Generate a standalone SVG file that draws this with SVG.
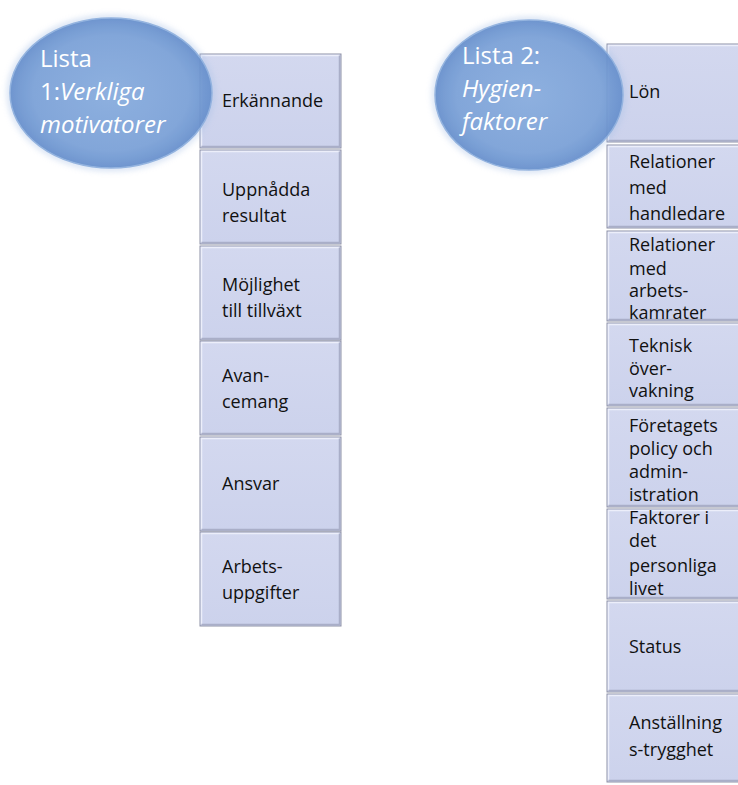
<svg xmlns="http://www.w3.org/2000/svg" width="738" height="785" viewBox="0 0 738 785">
  <defs>
    <radialGradient id="ballFill" cx="50%" cy="50%" r="55%">
      <stop offset="0%" stop-color="#86aadd"/>
      <stop offset="70%" stop-color="#79a0d7"/>
      <stop offset="100%" stop-color="#5f88c7"/>
    </radialGradient>
    <linearGradient id="boxFill" x1="0" y1="0" x2="0" y2="1">
      <stop offset="0%" stop-color="#d3d8ef"/>
      <stop offset="100%" stop-color="#ccd2ec"/>
    </linearGradient>
    <filter id="glow" x="-20%" y="-20%" width="140%" height="140%">
      <feGaussianBlur stdDeviation="3"/>
    </filter>
  </defs>
  <style>
    .box { fill: url(#boxFill); stroke: #8e91a6; stroke-width: 1; }
    .hl { fill: none; stroke: #eceefa; stroke-width: 1.5; }
    .sh { fill: none; stroke: #a9aec8; stroke-width: 1.5; }
    .lbl { font-family: "Open Sans", "Noto Sans", sans-serif; font-size: 18px; fill: #111111; }
    .title { font-family: "Open Sans", "Noto Sans", sans-serif; font-size: 24px; fill: #ffffff; }
    .it { font-style: italic; }
    .ball { fill: url(#ballFill); opacity: 0.93; stroke: #8fb0de; stroke-width: 1.5; }
    .halo { fill: none; stroke: #a9c1e6; stroke-width: 5; opacity: 0.6; }
  </style>

  <!-- Left column boxes -->
  <g id="l1">
    <rect class="box" x="200" y="54" width="141" height="94"/>
    <polyline class="hl" points="201.5,146.5 201.5,55.5 339.5,55.5"/>
    <polyline class="sh" points="201.5,146.5 339.5,146.5 339.5,55.5"/>
    <text class="lbl" x="222" y="107">Erkännande</text>
  </g>
  <g id="l2">
    <rect class="box" x="200" y="150" width="141" height="94"/>
    <polyline class="hl" points="201.5,242.5 201.5,151.5 339.5,151.5"/>
    <polyline class="sh" points="201.5,242.5 339.5,242.5 339.5,151.5"/>
    <text class="lbl" x="222" y="196">Uppnådda</text>
    <text class="lbl" x="222" y="222">resultat</text>
  </g>
  <g id="l3">
    <rect class="box" x="200" y="246" width="141" height="94"/>
    <polyline class="hl" points="201.5,338.5 201.5,247.5 339.5,247.5"/>
    <polyline class="sh" points="201.5,338.5 339.5,338.5 339.5,247.5"/>
    <text class="lbl" x="222" y="291">Möjlighet</text>
    <text class="lbl" x="222" y="317">till tillväxt</text>
  </g>
  <g id="l4">
    <rect class="box" x="200" y="341" width="141" height="94"/>
    <polyline class="hl" points="201.5,433.5 201.5,342.5 339.5,342.5"/>
    <polyline class="sh" points="201.5,433.5 339.5,433.5 339.5,342.5"/>
    <text class="lbl" x="222" y="382">Avan-</text>
    <text class="lbl" x="222" y="408">cemang</text>
  </g>
  <g id="l5">
    <rect class="box" x="200" y="437" width="141" height="94"/>
    <polyline class="hl" points="201.5,529.5 201.5,438.5 339.5,438.5"/>
    <polyline class="sh" points="201.5,529.5 339.5,529.5 339.5,438.5"/>
    <text class="lbl" x="222" y="490">Ansvar</text>
  </g>
  <g id="l6">
    <rect class="box" x="200" y="532" width="141" height="94"/>
    <polyline class="hl" points="201.5,624.5 201.5,533.5 339.5,533.5"/>
    <polyline class="sh" points="201.5,624.5 339.5,624.5 339.5,533.5"/>
    <text class="lbl" x="222" y="573">Arbets-</text>
    <text class="lbl" x="222" y="599">uppgifter</text>
  </g>

  <!-- Right column boxes -->
  <g id="r1">
    <rect class="box" x="607" y="44" width="141" height="98"/>
    <polyline class="hl" points="608.5,140.5 608.5,45.5 746,45.5"/>
    <polyline class="sh" points="608.5,140.5 746,140.5"/>
    <text class="lbl" x="629" y="98">Lön</text>
  </g>
  <g id="r2">
    <rect class="box" x="607" y="145" width="141" height="83"/>
    <polyline class="hl" points="608.5,226.5 608.5,146.5 746,146.5"/>
    <polyline class="sh" points="608.5,226.5 746,226.5"/>
    <text class="lbl" x="629" y="168">Relationer</text>
    <text class="lbl" x="629" y="194">med</text>
    <text class="lbl" x="629" y="220">handledare</text>
  </g>
  <g id="r3">
    <rect class="box" x="607" y="231" width="141" height="90"/>
    <polyline class="hl" points="608.5,319.5 608.5,232.5 746,232.5"/>
    <polyline class="sh" points="608.5,319.5 746,319.5"/>
    <text class="lbl" x="629" y="251">Relationer</text>
    <text class="lbl" x="629" y="275">med</text>
    <text class="lbl" x="629" y="297">arbets-</text>
    <text class="lbl" x="629" y="319">kamrater</text>
  </g>
  <g id="r4">
    <rect class="box" x="607" y="323" width="141" height="83"/>
    <polyline class="hl" points="608.5,404.5 608.5,324.5 746,324.5"/>
    <polyline class="sh" points="608.5,404.5 746,404.5"/>
    <text class="lbl" x="629" y="352">Teknisk</text>
    <text class="lbl" x="629" y="375">över-</text>
    <text class="lbl" x="629" y="397">vakning</text>
  </g>
  <g id="r5">
    <rect class="box" x="607" y="408" width="141" height="99"/>
    <polyline class="hl" points="608.5,505.5 608.5,409.5 746,409.5"/>
    <polyline class="sh" points="608.5,505.5 746,505.5"/>
    <text class="lbl" x="629" y="432">Företagets</text>
    <text class="lbl" x="629" y="455">policy och</text>
    <text class="lbl" x="629" y="478">admin-</text>
    <text class="lbl" x="629" y="501">istration</text>
  </g>
  <g id="r6">
    <rect class="box" x="607" y="509" width="141" height="90"/>
    <polyline class="hl" points="608.5,597.5 608.5,510.5 746,510.5"/>
    <polyline class="sh" points="608.5,597.5 746,597.5"/>
    <text class="lbl" x="629" y="524">Faktorer i</text>
    <text class="lbl" x="629" y="547">det</text>
    <text class="lbl" x="629" y="572">personliga</text>
    <text class="lbl" x="629" y="595">livet</text>
  </g>
  <g id="r7">
    <rect class="box" x="607" y="601" width="141" height="91"/>
    <polyline class="hl" points="608.5,690.5 608.5,602.5 746,602.5"/>
    <polyline class="sh" points="608.5,690.5 746,690.5"/>
    <text class="lbl" x="629" y="653">Status</text>
  </g>
  <g id="r8">
    <rect class="box" x="607" y="694" width="141" height="88"/>
    <polyline class="hl" points="608.5,780.5 608.5,695.5 746,695.5"/>
    <polyline class="sh" points="608.5,780.5 746,780.5"/>
    <text class="lbl" x="629" y="729">Anställning</text>
    <text class="lbl" x="629" y="756">s-trygghet</text>
  </g>

  <!-- Title ellipses -->
  <g id="title1">
    <ellipse class="halo" cx="111" cy="93" rx="101" ry="75" filter="url(#glow)"/>
    <ellipse class="ball" cx="111" cy="93" rx="101" ry="75"/>
    <text class="title" x="40" y="67">Lista</text>
    <text class="title" x="40" y="100">1:<tspan class="it">Verkliga</tspan></text>
    <text class="title it" x="40" y="133">motivatorer</text>
  </g>
  <g id="title2">
    <ellipse class="halo" cx="529" cy="95" rx="94" ry="75" filter="url(#glow)"/>
    <ellipse class="ball" cx="529" cy="95" rx="94" ry="75"/>
    <text class="title" x="462" y="64">Lista 2:</text>
    <text class="title it" x="462" y="97">Hygien-</text>
    <text class="title it" x="462" y="130">faktorer</text>
  </g>

  <g id="connectors"/>
</svg>
